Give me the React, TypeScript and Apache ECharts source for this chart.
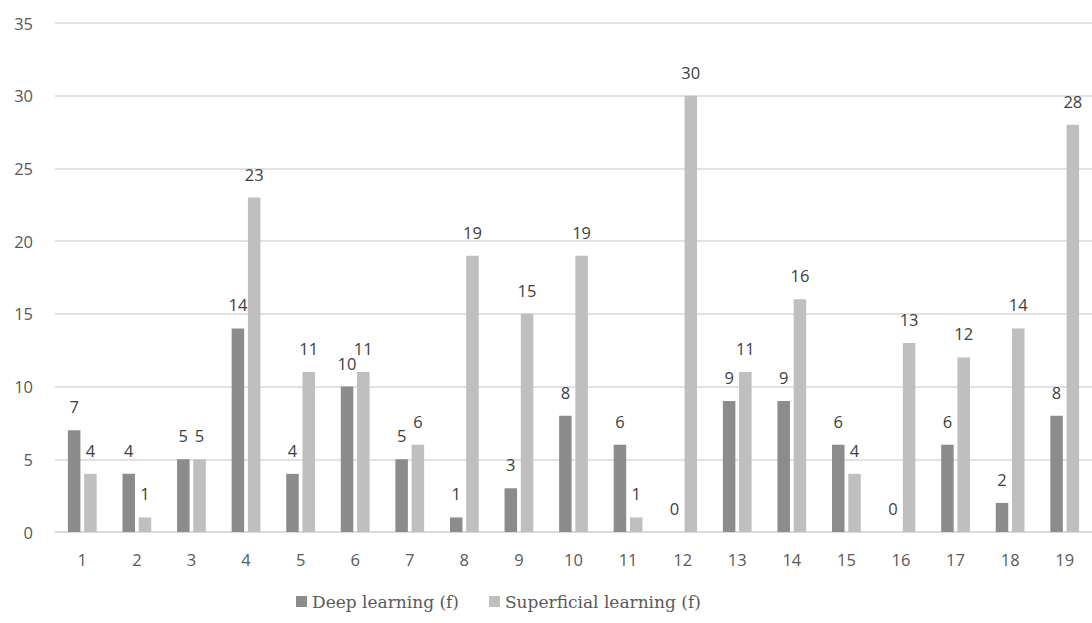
import React, { useEffect, useRef } from "react";
import * as echarts from "echarts";

const categories = ["1","2","3","4","5","6","7","8","9","10","11","12","13","14","15","16","17","18","19"];
const deepLearning = [7,4,5,14,4,10,5,1,3,8,6,0,9,9,6,0,6,2,8];
const superficialLearning = [4,1,5,23,11,11,6,19,15,19,1,30,11,16,4,13,12,14,28];

export default function App() {
  const ref = useRef<HTMLDivElement>(null);
  useEffect(() => {
    document.body.style.margin = "0";
    const chart = echarts.init(ref.current!, null, { renderer: "svg" });
    const labelStyle = {
      show: true,
      position: "top" as const,
      distance: 15,
      color: "#404040",
      fontSize: 16.5,
      fontFamily: "Open Sans",
    };
    chart.setOption({
      animation: false,
      grid: { left: 55, right: -1, top: 23, bottom: 91 },
      legend: {
        bottom: 8,
        left: 291,
        itemWidth: 11,
        itemHeight: 11,
        itemGap: 30,
        icon: "rect",
        textStyle: { color: "#595959", fontSize: 17, fontFamily: "DejaVu Serif" },
        data: ["Deep learning (f)", "Superficial learning (f)"],
      },
      xAxis: {
        type: "category",
        data: categories,
        axisLine: { lineStyle: { color: "#d9d9d9", width: 1.5 } },
        axisTick: { show: false },
        axisLabel: { color: "#595959", fontSize: 16.5, fontFamily: "Open Sans", margin: 19 },
      },
      yAxis: {
        type: "value",
        min: 0,
        max: 35,
        interval: 5,
        axisLine: { show: false },
        axisTick: { show: false },
        splitLine: { lineStyle: { color: "#d9d9d9", width: 1.5 } },
        axisLabel: { color: "#595959", fontSize: 16.5, fontFamily: "Open Sans", margin: 22 },
      },
      series: [
        {
          name: "Deep learning (f)",
          type: "bar",
          data: deepLearning,
          barWidth: 12.5,
          barGap: "30%",
          itemStyle: { color: "#8c8c8c" },
          label: labelStyle,
        },
        {
          name: "Superficial learning (f)",
          type: "bar",
          data: superficialLearning,
          barWidth: 12.5,
          itemStyle: { color: "#bfbfbf" },
          label: labelStyle,
        },
      ],
    });
    return () => chart.dispose();
  }, []);
  return <div ref={ref} style={{ width: 1092, height: 623 }} />;
}
